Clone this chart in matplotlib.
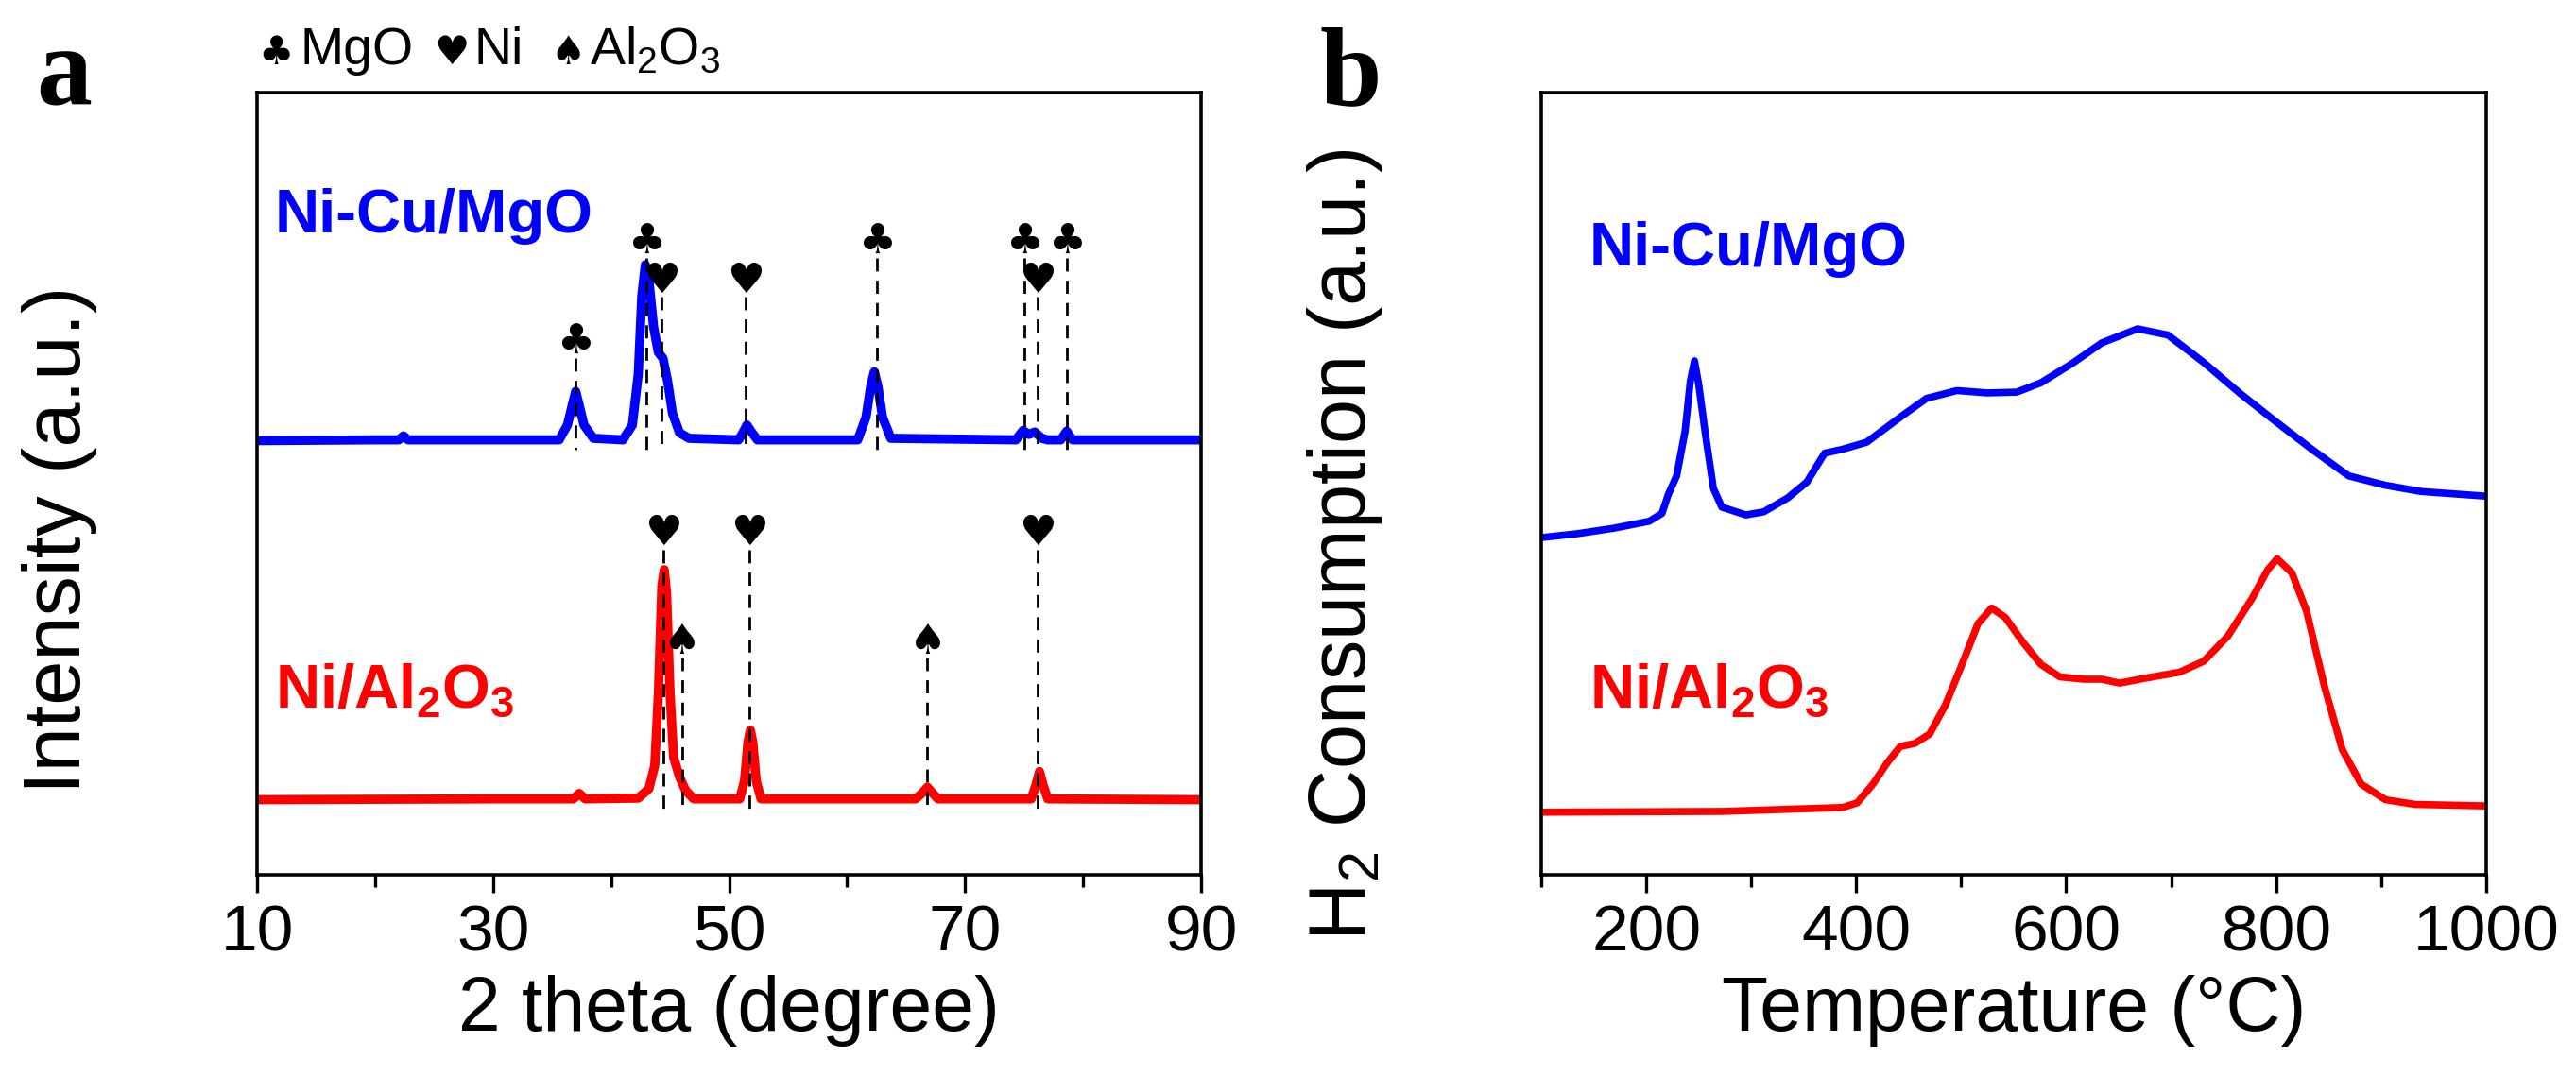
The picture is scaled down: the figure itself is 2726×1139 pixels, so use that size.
import matplotlib
matplotlib.use("Agg")
import matplotlib.pyplot as plt
from matplotlib.ticker import FixedLocator

plt.rcParams['font.family'] = ['Liberation Sans', 'DejaVu Sans']
plt.rcParams['mathtext.fontset'] = 'custom'
plt.rcParams['mathtext.rm'] = 'Liberation Sans'
plt.rcParams['mathtext.bf'] = 'Liberation Sans:bold'

# XRD (panel a), offsets included
xrd_cu_x = [10, 20, 22.0, 22.4, 22.8, 30, 35.6, 36.3, 36.7, 37.0, 37.3, 37.7, 38.5,
            41.0, 41.8, 42.3, 42.6, 42.9, 43.2, 43.6, 44.0, 44.4, 44.8, 45.2, 45.8, 46.6,
            50.8, 51.2, 51.5, 51.9, 52.4, 60.9, 61.6, 62.0, 62.3, 62.6, 63.0, 63.7,
            74.3, 74.9, 75.4, 75.9, 76.5, 77.0, 78.1, 78.6, 79.1, 90]
xrd_cu_y = [0.555, 0.556, 0.556, 0.561, 0.556, 0.556, 0.556, 0.575, 0.600, 0.618, 0.600, 0.575, 0.558,
            0.556, 0.575, 0.640, 0.740, 0.780, 0.760, 0.700, 0.668, 0.660, 0.630, 0.590, 0.565, 0.558,
            0.556, 0.566, 0.575, 0.566, 0.556, 0.556, 0.585, 0.625, 0.643, 0.625, 0.585, 0.558,
            0.556, 0.568, 0.563, 0.566, 0.558, 0.556, 0.556, 0.567, 0.556, 0.556]

xrd_al_x = [10, 30, 36.8, 37.3, 37.8, 42.3, 43.2, 43.7, 44.0, 44.3, 44.5, 44.7, 45.0, 45.3, 45.8,
            46.3, 47.0, 50.9, 51.3, 51.6, 51.8, 52.0, 52.3, 52.7, 65.8, 66.4, 66.8, 67.2, 67.7,
            75.6, 76.0, 76.3, 76.6, 77.0, 90]
xrd_al_y = [0.096, 0.097, 0.097, 0.104, 0.097, 0.098, 0.110, 0.140, 0.230, 0.370, 0.390, 0.360, 0.230,
            0.150, 0.125, 0.108, 0.097, 0.097, 0.120, 0.170, 0.185, 0.170, 0.120, 0.097, 0.097,
            0.105, 0.112, 0.105, 0.097, 0.097, 0.115, 0.132, 0.115, 0.097, 0.096]

# reflection positions
cu_mgo_pos = [37.0, 43.0, 62.5, 75.0, 78.6]
cu_ni_pos = [44.3, 51.4, 76.1]
al_ni_pos = [44.4, 51.7, 76.1]
al_al2o3_pos = [46.0, 66.8]

# H2-TPR (panel b)
tpr_cu_x = [100, 134, 169, 203, 215, 221, 229, 237, 242, 246, 250, 256, 264, 272, 295, 312,
            335, 353, 370, 387, 410, 444, 467, 496, 525, 553, 576, 605, 634, 668, 697, 731,
            766, 800, 835, 869, 904, 938, 1000]
tpr_cu_y = [0.431, 0.436, 0.443, 0.452, 0.462, 0.486, 0.510, 0.567, 0.631, 0.657, 0.627, 0.567,
            0.494, 0.470, 0.460, 0.464, 0.482, 0.502, 0.539, 0.544, 0.553, 0.587, 0.609, 0.619,
            0.616, 0.617, 0.629, 0.653, 0.680, 0.698, 0.690, 0.655, 0.615, 0.579, 0.543, 0.510,
            0.498, 0.490, 0.484]

tpr_al_x = [100, 272, 387, 401, 416, 430, 442, 456, 470, 485, 502, 516, 529, 542, 559, 576,
            594, 617, 634, 651, 674, 708, 731, 754, 777, 792, 801, 815, 829, 846, 863, 881,
            904, 932, 1000]
tpr_al_y = [0.080, 0.081, 0.086, 0.092, 0.116, 0.144, 0.164, 0.168, 0.180, 0.217, 0.273, 0.321,
            0.341, 0.329, 0.297, 0.269, 0.253, 0.250, 0.250, 0.245, 0.251, 0.259, 0.273, 0.305,
            0.353, 0.390, 0.404, 0.386, 0.337, 0.241, 0.160, 0.116, 0.096, 0.090, 0.088]

BLUE = '#0000FF'
RED = '#FF0000'
CLUB, HEART, SPADE = '\u2663', '\u2665', '\u2660'
SYM_FAMILY = ['DejaVu Sans']

fig = plt.figure(figsize=(27.26, 11.39), dpi=100)
ax1 = fig.add_axes([0.0998, 0.1870, 0.3665, 0.7270])
ax2 = fig.add_axes([0.5983, 0.1870, 0.3668, 0.7270])

for ax in (ax1, ax2):
    for sp in ax.spines.values():
        sp.set_linewidth(2.6)
    ax.set_ylim(0, 1)
    ax.set_yticks([])
    ax.tick_params(axis='x', which='major', direction='out', length=14, width=2.4,
                   labelsize=50, pad=8)
    ax.tick_params(axis='x', which='minor', direction='out', length=9, width=2.4)

# panel a
ax1.plot(xrd_cu_x, xrd_cu_y, color=BLUE, lw=7, solid_joinstyle='round')
ax1.plot(xrd_al_x, xrd_al_y, color=RED, lw=7, solid_joinstyle='round')
ax1.set_xlim(10, 90)
ax1.xaxis.set_major_locator(FixedLocator([10, 30, 50, 70, 90]))
ax1.xaxis.set_minor_locator(FixedLocator([20, 40, 60, 80]))
ax1.set_xlabel('2 theta (degree)', fontsize=58)
ax1.xaxis.set_label_coords(0.5, -0.128)


def mark(ax, xs, y_sym, y_bot, sym):
    for x in xs:
        ax.plot([x, x], [y_sym - 0.02, y_bot], color='black', lw=2, ls=(0, (5, 3.5)))
        ax.text(x, y_sym, sym, family=SYM_FAMILY, fontsize=32, ha='center', va='center')


mark(ax1, cu_mgo_pos[:1], 0.681, 0.544, CLUB)
mark(ax1, cu_mgo_pos[1:], 0.809, 0.544, CLUB)
mark(ax1, cu_ni_pos, 0.759, 0.544, HEART)
mark(ax1, al_ni_pos, 0.436, 0.082, HEART)
mark(ax1, al_al2o3_pos, 0.298, 0.082, SPADE)

ax1.text(0.019, 0.821, 'Ni-Cu/MgO', transform=ax1.transAxes, color=BLUE,
         fontsize=47, fontweight='bold', va='baseline')
ax1.text(0.019, 0.214, r'Ni/Al$_\mathbf{2}$O$_\mathbf{3}$', transform=ax1.transAxes, color=RED,
         fontsize=47, fontweight='bold', va='baseline')

# panel b
ax2.plot(tpr_cu_x, tpr_cu_y, color=BLUE, lw=5.5, solid_joinstyle='round')
ax2.plot(tpr_al_x, tpr_al_y, color=RED, lw=5.5, solid_joinstyle='round')
ax2.set_xlim(100, 1000)
ax2.xaxis.set_major_locator(FixedLocator([200, 400, 600, 800, 1000]))
ax2.xaxis.set_minor_locator(FixedLocator([100, 300, 500, 700, 900]))
ax2.set_xlabel('Temperature (\u00b0C)', fontsize=58)
ax2.xaxis.set_label_coords(0.5, -0.128)
ax2.text(0.051, 0.779, 'Ni-Cu/MgO', transform=ax2.transAxes, color=BLUE,
         fontsize=47, fontweight='bold', va='baseline')
ax2.text(0.051, 0.214, r'Ni/Al$_\mathbf{2}$O$_\mathbf{3}$', transform=ax2.transAxes, color=RED,
         fontsize=47, fontweight='bold', va='baseline')

# y labels, panel letters, phase key
fig.text(63 / 2726, 1 - 571 / 1139, 'Intensity (a.u.)', fontsize=61, rotation=90,
         ha='center', va='center')
fig.text(1423 / 2726, 1 - 577 / 1139, r'H$_2$ Consumption (a.u.)', fontsize=61, rotation=90,
         ha='center', va='center')
fig.text(38 / 2726, 1 - 110 / 1139, 'a', family='Liberation Serif', fontweight='bold',
         fontsize=85, va='baseline')
fig.text(1397 / 2726, 1 - 110 / 1139, 'b', family='Liberation Serif', fontweight='bold',
         fontsize=85, va='baseline')

key_y = 1 - 68 / 1139
fig.text(273 / 2726, key_y, CLUB, family=SYM_FAMILY, fontsize=30, va='baseline')
fig.text(318 / 2726, key_y, 'MgO', fontsize=40, va='baseline')
fig.text(459 / 2726, key_y, HEART, family=SYM_FAMILY, fontsize=30, va='baseline')
fig.text(501 / 2726, key_y, 'Ni', fontsize=40, va='baseline')
fig.text(582 / 2726, key_y, SPADE, family=SYM_FAMILY, fontsize=30, va='baseline')
fig.text(624 / 2726, key_y, r'Al$_2$O$_3$', fontsize=40, va='baseline')

fig.savefig('out.png', dpi=100)
